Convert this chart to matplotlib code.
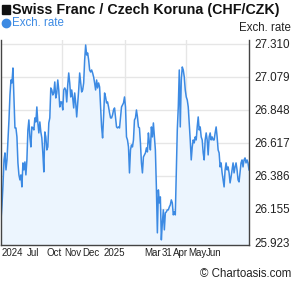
import numpy as np
import matplotlib
matplotlib.use('Agg')
from matplotlib import pyplot as plt
from matplotlib.patches import Rectangle
from matplotlib.lines import Line2D

####################### data (CHF/CZK daily rate)
rates = [
    26.078, 26.183, 26.323, 26.498, 26.547, 26.428, 26.498, 26.638, 26.778, 26.953,
    27.058, 27.037, 27.142, 26.939, 26.722, 26.722, 26.659, 26.477, 26.393, 26.358,
    26.393, 26.309, 26.477, 26.428, 26.484, 26.393, 26.498, 26.708, 26.778, 26.659,
    26.589, 26.729, 26.722, 26.708, 26.792, 26.764, 26.869, 26.757, 26.687, 26.764,
    26.694, 26.652, 26.547, 26.414, 26.694, 26.659, 26.568, 26.589, 26.757, 26.792,
    27.002, 26.988, 26.953, 26.967, 27.044, 26.932, 26.967, 27.058, 26.988, 26.869,
    26.904, 26.904, 26.848, 26.988, 27.002, 26.988, 26.904, 27.023, 27.107, 27.037,
    26.939, 26.988, 26.932, 26.862, 26.967, 26.897, 26.799, 26.897, 26.988, 27.107,
    27.037, 26.974, 26.988, 27.037, 27.198, 27.303, 27.233, 27.247, 27.198, 27.128,
    27.114, 27.128, 27.107, 27.079, 27.037, 26.988, 27.058, 27.002, 27.037, 27.009,
    26.869, 26.729, 26.652, 26.799, 26.967, 26.939, 26.897, 26.904, 26.869, 26.827,
    26.792, 26.792, 26.813, 26.848, 26.862, 26.799, 26.729, 26.722, 26.729, 26.722,
    26.799, 26.869, 26.883, 26.897, 26.939, 26.869, 26.659, 26.638, 26.589, 26.407,
    26.568, 26.603, 26.589, 26.638, 26.778, 26.792, 26.848, 26.799, 26.729, 26.722,
    26.617, 26.477, 26.407, 26.519, 26.533, 26.547, 26.582, 26.554, 26.687, 26.617,
    26.568, 26.729, 26.659, 26.757, 26.659, 26.568, 26.309, 25.987, 26.288, 26.197,
    26.239, 25.938, 26.057, 26.148, 26.008, 26.127, 26.134, 26.148, 26.148, 26.169,
    26.183, 26.218, 26.197, 26.113, 26.134, 26.113, 26.407, 26.708, 26.869, 27.128,
    26.729, 27.058, 27.149, 27.128, 27.079, 26.988, 26.939, 26.918, 26.869, 26.757,
    26.638, 26.498, 26.589, 26.638, 26.617, 26.659, 26.638, 26.729, 26.799, 26.708,
    26.729, 26.659, 26.638, 26.547, 26.498, 26.638, 26.687, 26.638, 26.533, 26.659,
    26.687, 26.638, 26.659, 26.638, 26.638, 26.687, 26.729, 26.659, 26.568, 26.547,
    26.449, 26.477, 26.407, 26.358, 26.309, 26.428, 26.477, 26.428, 26.449, 26.407,
    26.337, 26.379, 26.428, 26.477, 26.407, 26.449, 26.477, 26.428, 26.358, 26.344,
    26.407, 26.477, 26.498, 26.449, 26.498, 26.512, 26.477, 26.498, 26.477, 26.428,
]
x_labels = ['2024', 'Jul', 'Oct', 'Nov', 'Dec', '2025', 'Mar', '31', 'Apr', 'May', 'Jun']
x_label_pos = [11, 32, 53, 72.5, 90.5, 113.5, 152, 166.5, 180, 197, 214]
x_grid_pos = [61, 124, 186]
y_ticks = [25.923, 26.155, 26.386, 26.617, 26.848, 27.079, 27.310]

title = 'Swiss Franc / Czech Koruna (CHF/CZK)'
series_name = 'Exch. rate'

line_col = '#3c8ae3'
fill_col = '#ecf5fe'
grid_col = '#e6e6e6'
text_col = '#222222'

plt.rcParams['font.family'] = ['Liberation Sans', 'DejaVu Sans']

####################### figure
W, H = 295, 288
fig = plt.figure(figsize=(W / 100, H / 100), dpi=100)
ax = fig.add_axes([1 / W, (H - 245) / H, 248 / W, 205 / H])

x = np.arange(len(rates))
ax.fill_between(x, rates, 25.0, color=fill_col, lw=0)
ax.plot(x, rates, color=line_col, lw=1.1)

ax.set_xlim(0, len(rates) - 1)
ax.set_ylim(25.902, 27.338)

ax.set_yticks(y_ticks)
ax.set_yticklabels(['%.3f' % v for v in y_ticks])
ax.yaxis.tick_right()
ax.tick_params(axis='y', length=0, pad=4, labelsize=8.4, labelcolor=text_col)
ax.set_xticks(x_label_pos)
ax.set_xticklabels(x_labels)
ax.tick_params(axis='x', length=0, pad=2.5, labelsize=7, labelcolor=text_col)

ax.grid(axis='y', color=grid_col, lw=1)
for gx in x_grid_pos:
    ax.axvline(gx, color=grid_col, lw=1, zorder=0.5)
ax.set_axisbelow(True)

for s in ['left', 'bottom', 'right']:
    ax.spines[s].set_color('#444444')
    ax.spines[s].set_linewidth(1)
ax.spines['top'].set_visible(False)

####################### titles / legend
fig.add_artist(Rectangle((2 / W, 1 - 14 / H), 8 / W, 9 / H, color='#111111',
                         transform=fig.transFigure))
fig.text(12 / W, 1 - 10 / H, title, color='#111111', fontsize=10.3, fontweight='bold',
         va='center', ha='left')
fig.add_artist(Line2D([6 / W], [1 - 23 / H], marker='o', ms=6, color=line_col, lw=0,
                      transform=fig.transFigure))
fig.text(12 / W, 1 - 23 / H, series_name, color=line_col, fontsize=8.3,
         va='center', ha='left')
fig.text(291 / W, 1 - 28 / H, series_name, color=text_col, fontsize=8.3,
         va='center', ha='right')
fig.text(291 / W, 1 - 274 / H, '© Chartoasis.com', color=text_col, fontsize=8.3,
         va='center', ha='right')

fig.savefig('out.png', dpi=100)
